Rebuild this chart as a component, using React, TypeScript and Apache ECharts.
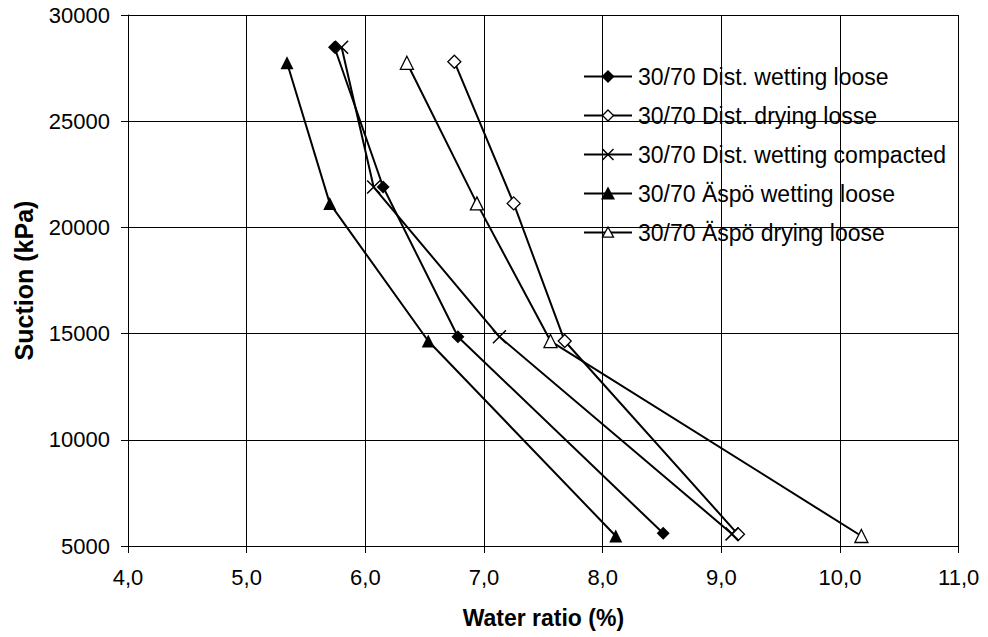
import React, { useEffect, useRef } from "react";
import * as echarts from "echarts";

const seriesNames = [
  "30/70 Dist. wetting loose",
  "30/70 Dist. drying losse",
  "30/70 Dist. wetting compacted",
  "30/70 Äspö wetting loose",
  "30/70 Äspö drying loose",
];

const distWetLooseX = [5.74, 6.15, 6.78, 8.51];
const distWetLooseY = [28480, 21900, 14850, 5600];
const distDryLooseX = [6.75, 7.25, 7.68, 9.14];
const distDryLooseY = [27800, 21130, 14650, 5550];
const distWetCompX = [5.8, 6.07, 7.13, 9.09];
const distWetCompY = [28480, 21900, 14850, 5570];
const aspoWetLooseX = [5.34, 5.7, 6.53, 8.11];
const aspoWetLooseY = [27750, 21130, 14650, 5470];
const aspoDryLooseX = [6.35, 6.94, 7.56, 10.18];
const aspoDryLooseY = [27750, 21130, 14650, 5470];

const xTicks = [4, 5, 6, 7, 8, 9, 10, 11];
const yTicks = [5000, 10000, 15000, 20000, 25000, 30000];

const FONT = "'Liberation Sans', Arial, sans-serif";

function pairs(xs: number[], ys: number[]) {
  return xs.map((x, i) => [x, ys[i]]);
}

type Kind = "diamond" | "triangle" | "cross";

function legendSymbol(kind: Kind, filled: boolean, size: number) {
  const h = size / 2;
  const style = {
    fill: filled ? "#000" : "#fff",
    stroke: "#000",
    lineWidth: filled ? 0 : 1.3,
  };
  if (kind === "diamond") {
    return [
      {
        type: "polygon",
        shape: { points: [[24, -h], [24 + h, 0], [24, h], [24 - h, 0]] },
        style,
      },
    ];
  }
  if (kind === "triangle") {
    return [
      {
        type: "polygon",
        shape: { points: [[24, -h], [24 + h, h * 0.85], [24 - h, h * 0.85]] },
        style,
      },
    ];
  }
  return [
    { type: "line", shape: { x1: 24 - h, y1: -h, x2: 24 + h, y2: h }, style: { stroke: "#000", lineWidth: 1.5 } },
    { type: "line", shape: { x1: 24 - h, y1: h, x2: 24 + h, y2: -h }, style: { stroke: "#000", lineWidth: 1.5 } },
  ];
}

export default function App() {
  const ref = useRef<HTMLDivElement>(null);
  useEffect(() => {
    document.body.style.margin = "0";
    if (!ref.current) return;
    const chart = echarts.init(ref.current, null, { renderer: "svg" });
    const crossPath = "path://M0,0L10,10M10,0L0,10";
    const mk = (
      name: string,
      xs: number[],
      ys: number[],
      symbol: string,
      fill: string
    ) => ({
      name,
      type: "line",
      data: pairs(xs, ys),
      symbol,
      symbolSize: 13,
      showAllSymbol: true,
      lineStyle: { color: "#000", width: 2 },
      itemStyle: {
        color: fill,
        borderColor: "#000",
        borderWidth: fill === "#fff" ? 1.3 : symbol === crossPath ? 1.5 : 0,
      },
      emphasis: { disabled: true },
      z: 3,
    });

    const legendKinds: Kind[] = ["diamond", "diamond", "cross", "triangle", "triangle"];
    const legendFilled = [true, false, false, true, false];
    const legendSizes = [13, 11, 11, 14, 11];
    const legendGraphics = seriesNames.map((name, i) => ({
      type: "group",
      x: 584,
      y: 76.5 + i * 39,
      children: [
        { type: "line", shape: { x1: 0, y1: 0, x2: 48, y2: 0 }, style: { stroke: "#000", lineWidth: 2 } },
        ...legendSymbol(legendKinds[i], legendFilled[i], legendSizes[i]),
        {
          type: "text",
          x: 54,
          y: 0,
          style: {
            text: name,
            fontSize: 23,
            fontFamily: FONT,
            fill: "#000",
            verticalAlign: "middle",
            align: "left",
          },
        },
      ],
    }));

    chart.setOption({
      animation: false,
      textStyle: { fontFamily: FONT },
      grid: {
        left: 128,
        right: 29.3,
        top: 15,
        bottom: 91,
        containLabel: false,
        outerBoundsMode: "none",
      },
      graphic: legendGraphics,
      xAxis: {
        type: "value",
        min: xTicks[0],
        max: xTicks[xTicks.length - 1],
        interval: 1,
        name: "Water ratio (%)",
        nameLocation: "middle",
        nameGap: 60,
        nameTextStyle: {
          fontSize: 23,
          fontWeight: "bold",
          color: "#000",
          fontFamily: FONT,
        },
        axisLine: { show: true, onZero: false, lineStyle: { color: "#000", width: 1 } },
        axisTick: { show: true, length: 7, lineStyle: { color: "#000" } },
        axisLabel: {
          fontSize: 22,
          color: "#000",
          margin: 20,
          fontFamily: FONT,
          formatter: (v: number) => v.toFixed(1).replace(".", ","),
        },
        splitLine: { show: true, lineStyle: { color: "#000", width: 1 } },
      },
      yAxis: {
        type: "value",
        min: yTicks[0],
        max: yTicks[yTicks.length - 1],
        interval: 5000,
        name: "Suction (kPa)",
        nameLocation: "middle",
        nameGap: 92,
        nameTextStyle: {
          fontSize: 25,
          fontWeight: "bold",
          color: "#000",
          fontFamily: FONT,
        },
        axisLine: { show: true, onZero: false, lineStyle: { color: "#000", width: 1 } },
        axisTick: { show: true, length: 7, lineStyle: { color: "#000" } },
        axisLabel: {
          fontSize: 22,
          color: "#000",
          margin: 18,
          fontFamily: FONT,
          formatter: (v: number) => String(v),
        },
        splitLine: { show: true, lineStyle: { color: "#000", width: 1 } },
      },
      series: [
        mk(seriesNames[0], distWetLooseX, distWetLooseY, "diamond", "#000"),
        mk(seriesNames[1], distDryLooseX, distDryLooseY, "diamond", "#fff"),
        mk(seriesNames[2], distWetCompX, distWetCompY, crossPath, "none"),
        mk(seriesNames[3], aspoWetLooseX, aspoWetLooseY, "triangle", "#000"),
        mk(seriesNames[4], aspoDryLooseX, aspoDryLooseY, "triangle", "#fff"),
      ],
    });
    return () => chart.dispose();
  }, []);
  return <div ref={ref} style={{ width: 988, height: 637 }} />;
}
